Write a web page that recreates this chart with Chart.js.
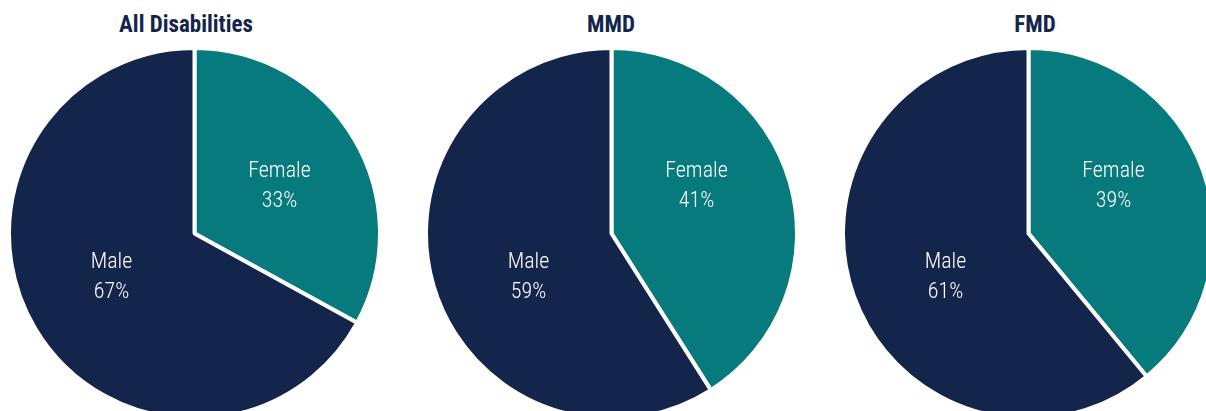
<!DOCTYPE html>
<html>
<head>
<meta charset="utf-8">
<script src="https://cdn.jsdelivr.net/npm/chart.js@4"></script>
<style>
  html, body { margin: 0; padding: 0; background: #fff; overflow: hidden; }
  body { width: 1206px; height: 411px; position: relative; }
  .title {
    position: absolute; top: 11px; width: 300px; text-align: center;
    font-family: 'Liberation Sans Narrow', 'Roboto Condensed', 'DejaVu Sans Condensed', Roboto, sans-serif;
    font-weight: bold; font-size: 23px; color: #13254a;
  }
  .pie { position: absolute; top: 46px; width: 375px; height: 375px; }
</style>
</head>
<body>
<script>
  var chartTitles = ['All Disabilities', 'MMD', 'FMD'];
  var categories = ['Female', 'Male'];
  var femaleShare = [33, 41, 39];
  var maleShare = [67, 59, 61];

  var colors = ['#077a7e', '#13254a'];
  var centersX = [194, 611, 1028];
  var titleCentersX = [186, 611, 1035];
  // label anchor per category, as a fraction of the radius
  var labelOffsets = [[0.458, -0.252], [-0.447, 0.236]];
  var labelFont = "'Liberation Sans Narrow', 'Roboto Condensed', 'DejaVu Sans Condensed', Roboto, sans-serif";

  var sliceLabels = {
    id: 'sliceLabels',
    afterDatasetsDraw: function (chart) {
      var ctx = chart.ctx;
      var meta = chart.getDatasetMeta(0);
      ctx.save();
      ctx.fillStyle = '#ffffff';
      ctx.font = '300 22px ' + labelFont;
      ctx.textAlign = 'center';
      ctx.textBaseline = 'middle';
      meta.data.forEach(function (arc, i) {
        var x = arc.x + labelOffsets[i][0] * arc.outerRadius;
        var y = arc.y + labelOffsets[i][1] * arc.outerRadius;
        ctx.fillText(chart.data.labels[i], x, y - 15);
        ctx.fillText(chart.data.datasets[0].data[i] + '%', x, y + 15);
      });
      ctx.restore();
    }
  };

  chartTitles.forEach(function (t, k) {
    var title = document.createElement('div');
    title.className = 'title';
    title.textContent = t;
    title.style.left = (titleCentersX[k] - 150) + 'px';
    document.body.appendChild(title);

    var holder = document.createElement('div');
    holder.className = 'pie';
    holder.style.left = (centersX[k] - 187.5) + 'px';
    var canvas = document.createElement('canvas');
    holder.appendChild(canvas);
    document.body.appendChild(holder);

    new Chart(canvas.getContext('2d'), {
      type: 'pie',
      data: {
        labels: categories,
        datasets: [{
          data: [femaleShare[k], maleShare[k]],
          backgroundColor: colors,
          borderColor: '#ffffff',
          borderWidth: 4
        }]
      },
      options: {
        responsive: true,
        maintainAspectRatio: false,
        animation: false,
        layout: { padding: 0 },
        plugins: {
          legend: { display: false },
          tooltip: { enabled: false }
        }
      },
      plugins: [sliceLabels]
    });
  });
</script>
</body>
</html>
